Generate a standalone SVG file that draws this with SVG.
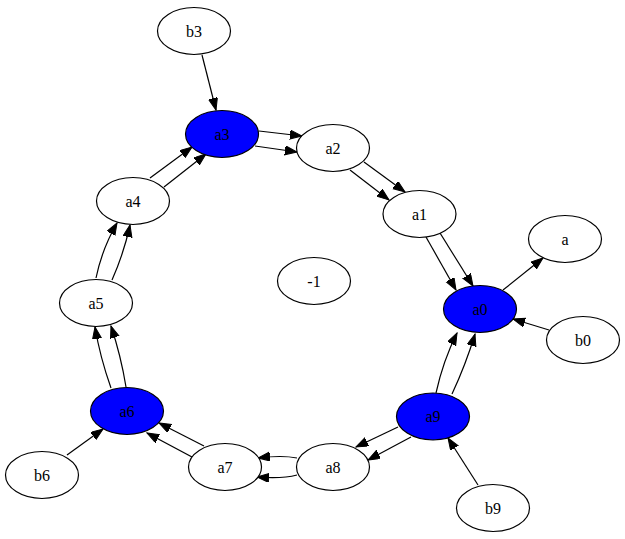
<svg xmlns="http://www.w3.org/2000/svg" width="625" height="539" viewBox="0 0 625 539">
<style>
.n ellipse{fill:#ffffff;stroke:#000;stroke-width:1.2}
.n.b ellipse{fill:#0000ff}
.n text{font-family:"Liberation Serif","Times New Roman",serif;font-size:16px;text-anchor:middle;fill:#000}
#edges path{fill:none;stroke:#000;stroke-width:1.2;marker-end:url(#ah)}
</style>
<defs>
<marker id="ah" markerUnits="userSpaceOnUse" markerWidth="13" markerHeight="10" refX="12" refY="4.5" orient="auto">
<path d="M0,0 L12,4.5 L0,9 z" fill="#000" stroke="#000" stroke-width="1"/>
</marker>
</defs>
<rect width="625" height="539" fill="#fff"/>
<g id="edges">
<path d="M202,55 L216,110"/>
<path d="M259,131 L302,136"/>
<path d="M255,146 L297,152"/>
<path d="M364,162 L405,192"/>
<path d="M350,170 L389,200"/>
<path d="M426,237 L456,290"/>
<path d="M440,233 L473,286"/>
<path d="M503,290 L543,258"/>
<path d="M549,330 L513,319"/>
<path d="M436,393 Q443,361 457,333"/>
<path d="M452,394 Q466,364 475,334"/>
<path d="M398,427 L356,447"/>
<path d="M411,437 L368,460"/>
<path d="M297,458 Q282,455 258,458"/>
<path d="M297,475 Q282,479 257,477"/>
<path d="M478,485 L448,438"/>
<path d="M204,446 L159,423"/>
<path d="M192,457 L147,433"/>
<path d="M67,455 L103,429"/>
<path d="M111,388 Q100,357 95,327"/>
<path d="M126,387 Q121,356 111,326"/>
<path d="M96,278 Q102,249 117,223"/>
<path d="M112,280 Q124,253 130,225"/>
<path d="M150,178 L192,147"/>
<path d="M164,187 L206,154"/>
</g>
<g id="b3" class="n"><ellipse cx="194" cy="31" rx="36.5" ry="23.5"/><text x="194" y="36.5">b3</text></g>
<g id="a3" class="n b"><ellipse cx="222" cy="134" rx="36.5" ry="23.5"/><text x="222" y="139.5">a3</text></g>
<g id="a2" class="n"><ellipse cx="333" cy="148" rx="36.5" ry="23.5"/><text x="333" y="153.5">a2</text></g>
<g id="a1" class="n"><ellipse cx="419.5" cy="214" rx="36.5" ry="23.5"/><text x="419.5" y="219.5">a1</text></g>
<g id="a" class="n"><ellipse cx="565" cy="239" rx="36.5" ry="23.5"/><text x="565" y="244.5">a</text></g>
<g id="m1" class="n"><ellipse cx="314" cy="281" rx="36.5" ry="23.5"/><text x="314" y="286.5">-1</text></g>
<g id="a0" class="n b"><ellipse cx="480" cy="309" rx="36.5" ry="23.5"/><text x="480" y="314.5">a0</text></g>
<g id="b0" class="n"><ellipse cx="583" cy="340" rx="36.5" ry="23.5"/><text x="583" y="345.5">b0</text></g>
<g id="a4" class="n"><ellipse cx="133" cy="201" rx="36.5" ry="23.5"/><text x="133" y="206.5">a4</text></g>
<g id="a5" class="n"><ellipse cx="96" cy="303" rx="36.5" ry="23.5"/><text x="96" y="308.5">a5</text></g>
<g id="a6" class="n b"><ellipse cx="127" cy="411" rx="36.5" ry="23.5"/><text x="127" y="416.5">a6</text></g>
<g id="b6" class="n"><ellipse cx="42" cy="475" rx="36.5" ry="23.5"/><text x="42" y="480.5">b6</text></g>
<g id="a7" class="n"><ellipse cx="225" cy="467" rx="36.5" ry="23.5"/><text x="225" y="472.5">a7</text></g>
<g id="a8" class="n"><ellipse cx="333" cy="467" rx="36.5" ry="23.5"/><text x="333" y="472.5">a8</text></g>
<g id="a9" class="n b"><ellipse cx="433" cy="416.5" rx="36.5" ry="23.5"/><text x="433" y="422">a9</text></g>
<g id="b9" class="n"><ellipse cx="493" cy="508" rx="36.5" ry="23.5"/><text x="493" y="513.5">b9</text></g>
</svg>
